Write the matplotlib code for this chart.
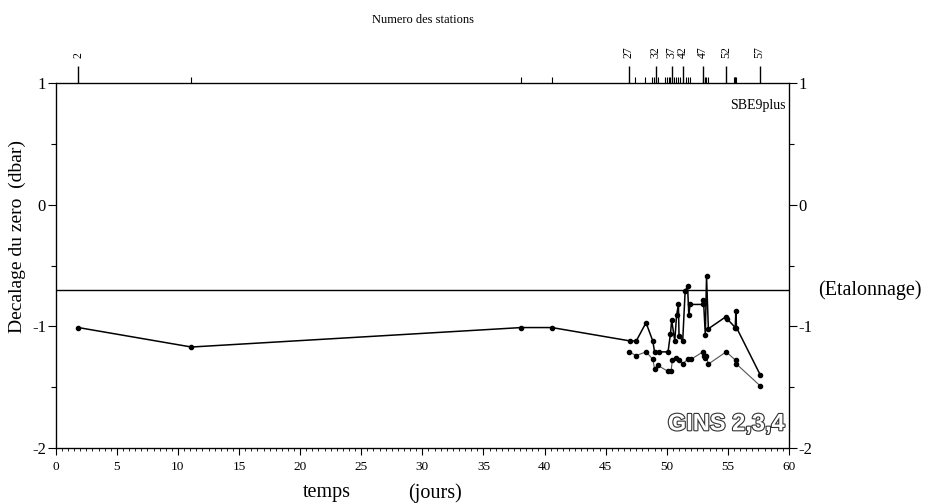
import matplotlib
matplotlib.use("Agg")
import matplotlib.pyplot as plt
import matplotlib.patheffects as pe
from matplotlib.ticker import MultipleLocator

plt.rcParams['font.family'] = ['Liberation Serif', 'DejaVu Serif']

# Numbered stations (labelled on the top axis) and their times in days
station_num = [2, 27, 32, 37, 42, 47, 52, 57]
station_day = [1.85, 46.9, 49.1, 50.4, 51.3, 52.95, 54.85, 57.6]
# Remaining stations, drawn as short ticks
other_station_day = [11.1, 38.1, 40.6, 47.4, 48.2, 48.8, 48.95, 49.25, 49.85,
                     50.0, 50.15, 50.3, 50.6, 50.75, 50.9, 51.1, 51.6, 51.75,
                     51.9, 53.0, 53.1, 53.2, 53.35, 55.5, 55.55, 55.6, 55.7]

# Zero offset, first sensor
day_a = [1.85, 11.1, 38.1, 40.6, 47.0, 47.5, 48.3, 48.85, 49.0, 49.4, 50.1,
         50.3, 50.4, 50.65, 50.8, 50.95, 51.0, 51.3, 51.5, 51.7, 51.8, 51.9,
         52.95, 53.0, 53.15, 53.25, 53.4, 54.85, 54.95, 55.6, 55.65, 55.7, 57.65]
offset_a = [-1.01, -1.17, -1.01, -1.01, -1.12, -1.12, -0.97, -1.12, -1.21,
            -1.21, -1.21, -1.06, -0.95, -1.12, -0.91, -0.82, -1.08, -1.12,
            -0.71, -0.67, -0.91, -0.82, -0.82, -0.78, -1.07, -0.59, -1.02,
            -0.92, -0.94, -1.01, -0.87, -1.01, -1.40]

# Zero offset, second sensor
day_b = [46.9, 47.5, 48.3, 48.85, 49.0, 49.25, 50.1, 50.35, 50.45, 50.75, 51.0,
         51.3, 51.7, 52.0, 52.95, 53.05, 53.15, 53.2, 53.4, 54.85, 55.65, 55.7,
         57.65]
offset_b = [-1.21, -1.24, -1.21, -1.27, -1.35, -1.32, -1.37, -1.37, -1.28,
            -1.26, -1.28, -1.31, -1.27, -1.27, -1.21, -1.24, -1.26, -1.24,
            -1.31, -1.21, -1.28, -1.31, -1.49]

calib_offset = -0.70

fig = plt.figure(figsize=(9.32, 5.04), dpi=100)
ax = fig.add_axes([0.0598, 0.1111, 0.7868, 0.7242])

ax.plot(day_b, offset_b, color='#555555', lw=0.8, marker='o', ms=3,
        mfc='black', mec='black', zorder=3)
ax.plot(day_a, offset_a, color='black', lw=1.1, marker='o', ms=3,
        mfc='black', mec='black', zorder=4)
ax.axhline(calib_offset, color='black', lw=1.0)

ax.set_xlim(0, 60)
ax.set_ylim(-2, 1)
ax.xaxis.set_major_locator(MultipleLocator(5))
ax.xaxis.set_minor_locator(MultipleLocator(0.5))
ax.yaxis.set_major_locator(MultipleLocator(1))
ax.yaxis.set_minor_locator(MultipleLocator(0.5))
ax.tick_params(axis='x', which='major', direction='out', length=5, width=0.8,
               labelsize=9.5, pad=4)
ax.tick_params(axis='x', which='minor', direction='out', length=2.5, width=0.6)
ax.tick_params(axis='y', which='major', direction='out', length=6, width=0.8,
               labelsize=12, pad=1, left=True, right=True,
               labelleft=True, labelright=True)
ax.tick_params(axis='y', which='minor', direction='out', length=3.5,
               width=0.8, left=True, right=True)
ax.tick_params(top=False)
ax.set_yticks([-2, -1, 0, 1])
ax.set_yticklabels(['-2', '-1', '0', '1'])
for s in ax.spines.values():
    s.set_linewidth(0.9)

# Station numbers along the top
top = ax.twiny()
top.set_xlim(ax.get_xlim())
top.set_xticks(station_day)
top.set_xticklabels([str(n) for n in station_num], rotation=90, fontsize=8.5)
top.set_xticks(other_station_day, minor=True)
top.tick_params(axis='x', which='major', direction='out', length=12, width=1.0, pad=6)
top.tick_params(axis='x', which='minor', direction='out', length=4.5, width=0.8)

ax.text(0.995, 0.955, 'SBE9plus', transform=ax.transAxes, ha='right',
        va='top', fontsize=10)
ax.text(0.995, 0.035, 'GINS 2,3,4', transform=ax.transAxes, ha='right',
        va='bottom', fontsize=17, fontweight='bold', family='Liberation Sans',
        color='white',
        path_effects=[pe.Stroke(linewidth=1.6, foreground='#333333'), pe.Normal()])
ax.text(1.04, calib_offset, '(Etalonnage)', transform=ax.get_yaxis_transform(),
        ha='left', va='center', fontsize=14.5)

fig.text(0.454, 0.96, 'Numero des stations', ha='center', va='center', fontsize=9)
fig.text(0.351, 0.022, 'temps', ha='center', va='center', fontsize=14.5)
fig.text(0.467, 0.022, '(jours)', ha='center', va='center', fontsize=14.5)
fig.text(0.019, 0.53, 'Decalage du zero  (dbar)', ha='center', va='center',
         rotation=90, fontsize=14)

fig.savefig('out.png', dpi=100)
